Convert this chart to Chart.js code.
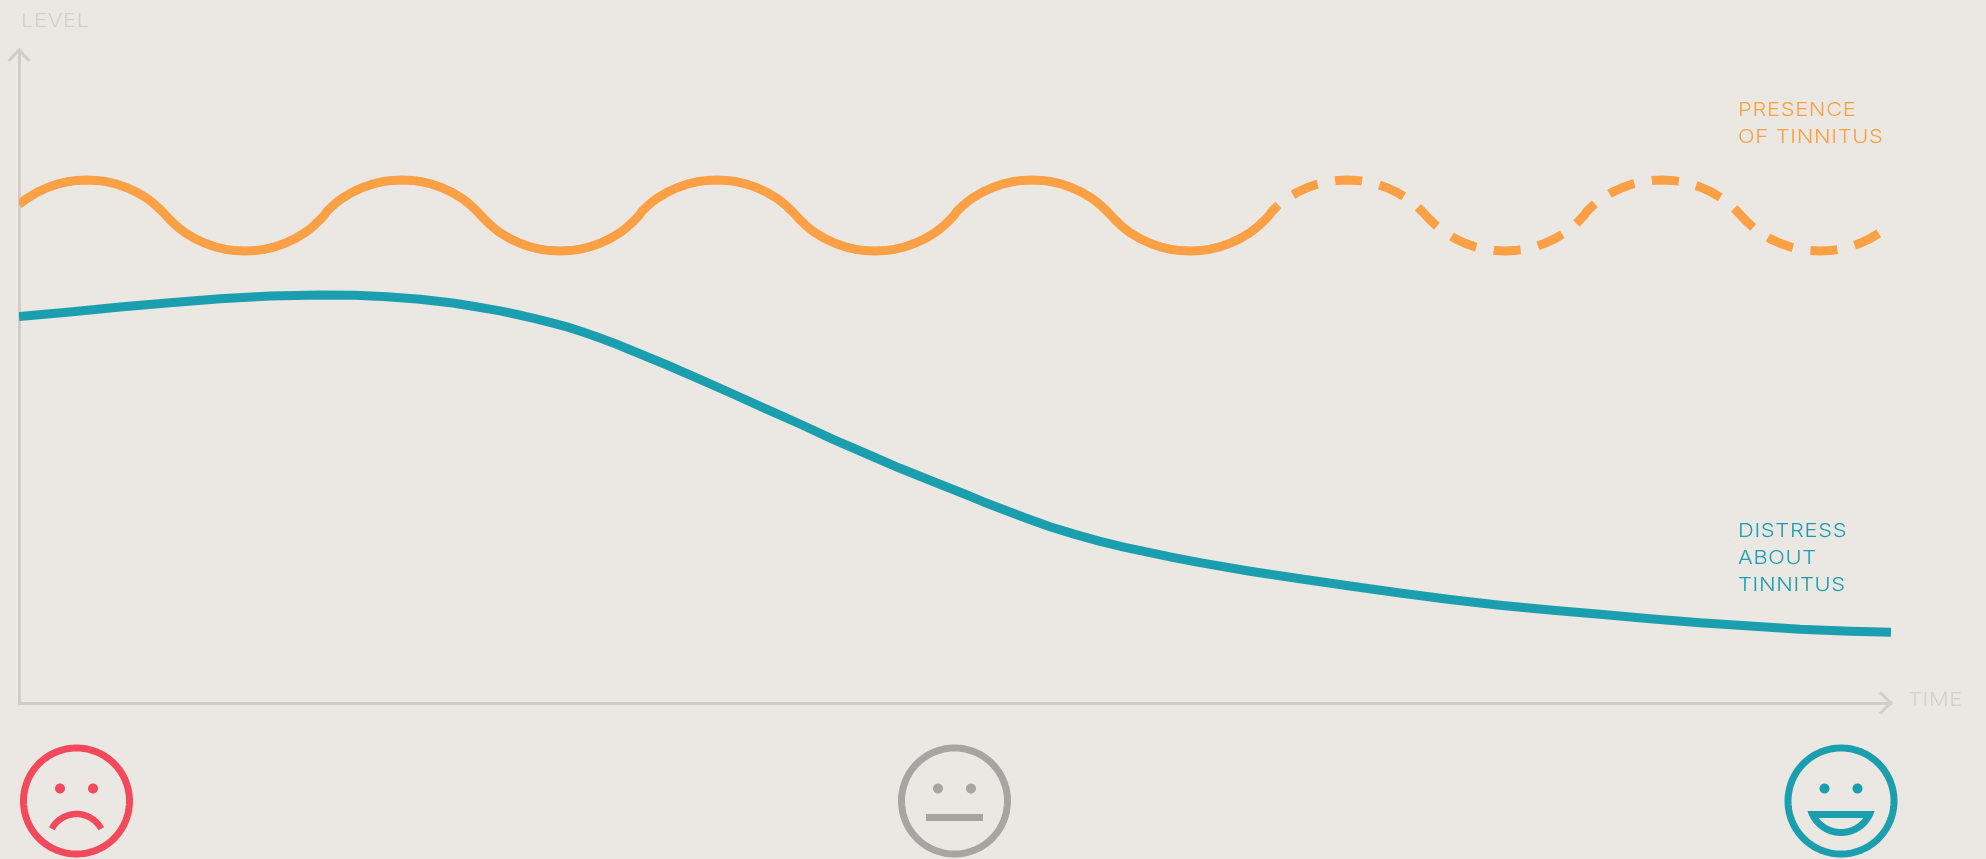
<!DOCTYPE html>
<html>
<head>
<meta charset="utf-8">
<title>Tinnitus level over time</title>
<script src="https://cdn.jsdelivr.net/npm/chart.js@4"></script>
<style>
    html, body { margin: 0; padding: 0; background: #ebe8e3; overflow: hidden; }
    canvas { display: block; }
</style>
</head>
<body>
<canvas id="chart" width="1986" height="859"></canvas>
<script>
// Values (no ticks in the original, units are arbitrary)
const presenceTime = [
    0, 3, 8, 18, 28, 38, 48, 58, 68, 78, 88, 98, 108, 118, 128, 133, 138, 143, 147, 151, 156, 161, 166, 176, 186, 196, 206, 216, 226, 236, 246, 256, 266, 276, 286, 291, 296, 301, 305,
    308, 313, 318, 323, 333, 343, 353, 363, 373, 383, 393, 403, 413, 423, 433, 443, 448, 453, 458, 462, 466, 471, 476, 481, 491, 501, 511, 521, 531, 541, 551, 561, 571, 581, 591, 601, 606, 611, 616, 620,
    623, 628, 633, 638, 648, 658, 668, 678, 688, 698, 708, 718, 728, 738, 748, 758, 763, 768, 773, 777, 781, 786, 791, 796, 806, 816, 826, 836, 846, 856, 866, 876, 886, 896, 906, 916, 921, 926, 931, 935,
    938, 943, 948, 953, 963, 973, 983, 993, 1003, 1013, 1023, 1033, 1043, 1053, 1063, 1073, 1078, 1083, 1088, 1092, 1096, 1101, 1106, 1111, 1121, 1131, 1141, 1151, 1161, 1171, 1181, 1191, 1201, 1211, 1221, 1231, 1236, 1241, 1246, 1250,
    1253, 1258, 1263, 1268, 1278, 1288, 1298, 1308, 1318, 1328, 1338, 1348, 1358, 1368, 1378, 1388, 1393, 1398, 1403, 1407, 1411, 1416, 1421, 1426, 1436, 1446, 1456, 1466, 1476, 1486, 1496, 1506, 1516, 1526, 1536, 1546, 1551, 1556, 1561, 1565,
    1568, 1573, 1578, 1583, 1593, 1603, 1613, 1623, 1633, 1643, 1653, 1663, 1673, 1683, 1693, 1703, 1708, 1713, 1718, 1722, 1726, 1731, 1736, 1741, 1751, 1761, 1771, 1781, 1791, 1801, 1811, 1821, 1831, 1841, 1851, 1861, 1866, 1871, 1872
];
const presenceLevel = [
    498.4, 500.9, 504.6, 510.6, 515.3, 518.8, 521.2, 522.6, 523, 522.6, 521.2, 518.8, 515.3, 510.6, 504.6, 500.9, 496.6, 491.8, 487.5, 483.2, 478.4, 474.1, 470.4, 464.4, 459.7, 456.2, 453.8, 452.4, 452, 452.4, 453.8, 456.2, 459.7, 464.4, 470.4, 474.1, 478.4, 483.2, 487.5,
    491.8, 496.6, 500.9, 504.6, 510.6, 515.3, 518.8, 521.2, 522.6, 523, 522.6, 521.2, 518.8, 515.3, 510.6, 504.6, 500.9, 496.6, 491.8, 487.5, 483.2, 478.4, 474.1, 470.4, 464.4, 459.7, 456.2, 453.8, 452.4, 452, 452.4, 453.8, 456.2, 459.7, 464.4, 470.4, 474.1, 478.4, 483.2, 487.5,
    491.8, 496.6, 500.9, 504.6, 510.6, 515.3, 518.8, 521.2, 522.6, 523, 522.6, 521.2, 518.8, 515.3, 510.6, 504.6, 500.9, 496.6, 491.8, 487.5, 483.2, 478.4, 474.1, 470.4, 464.4, 459.7, 456.2, 453.8, 452.4, 452, 452.4, 453.8, 456.2, 459.7, 464.4, 470.4, 474.1, 478.4, 483.2, 487.5,
    491.8, 496.6, 500.9, 504.6, 510.6, 515.3, 518.8, 521.2, 522.6, 523, 522.6, 521.2, 518.8, 515.3, 510.6, 504.6, 500.9, 496.6, 491.8, 487.5, 483.2, 478.4, 474.1, 470.4, 464.4, 459.7, 456.2, 453.8, 452.4, 452, 452.4, 453.8, 456.2, 459.7, 464.4, 470.4, 474.1, 478.4, 483.2, 487.5,
    491.8, 496.6, 500.9, 504.6, 510.6, 515.3, 518.8, 521.2, 522.6, 523, 522.6, 521.2, 518.8, 515.3, 510.6, 504.6, 500.9, 496.6, 491.8, 487.5, 483.2, 478.4, 474.1, 470.4, 464.4, 459.7, 456.2, 453.8, 452.4, 452, 452.4, 453.8, 456.2, 459.7, 464.4, 470.4, 474.1, 478.4, 483.2, 487.5,
    491.8, 496.6, 500.9, 504.6, 510.6, 515.3, 518.8, 521.2, 522.6, 523, 522.6, 521.2, 518.8, 515.3, 510.6, 504.6, 500.9, 496.6, 491.8, 487.5, 483.2, 478.4, 474.1, 470.4, 464.4, 459.7, 456.2, 453.8, 452.4, 452, 452.4, 453.8, 456.2, 459.7, 464.4, 470.4, 474.1, 478.4, 479.2
];
const presenceDashedFrom = 1258; // the future part of the line is dashed

const distressTime = [
    0, 51, 101, 151, 201, 251, 301, 336, 368, 401, 434, 457, 481, 498, 514, 531, 548, 564, 581, 597, 614, 648, 681, 714, 748, 781, 814, 848, 881, 914, 948,
    964, 981, 1006, 1031, 1056, 1081, 1106, 1131, 1156, 1181, 1231, 1281, 1331, 1381, 1431, 1481, 1531, 1581, 1631, 1681, 1731, 1781, 1831, 1872
];
const distressLevel = [
    386.4, 391, 396, 400.3, 404.3, 407, 408, 407.7, 406.3, 403.7, 400, 396.3, 392.1, 388.5, 384.8, 380.7, 376.1, 371, 365, 359, 352, 338, 323.7, 309, 293.7, 279, 263.7, 249, 234.7, 221.5, 208,
    201.3, 194.7, 185.2, 176.3, 168.6, 161.7, 155.7, 150.3, 145.1, 140.3, 131.8, 124.3, 117, 110, 103.5, 97.8, 93, 88.7, 84.3, 80.3, 77, 73.7, 71.7, 70.7
];

const presenceLabel = ["PRESENCE", "OF TINNITUS"];
const distressLabel = ["DISTRESS", "ABOUT", "TINNITUS"];

const BG = "#ebe8e3";
const AXIS = "#d2cdc6";
const AXIS_TEXT = "#d4d0ca";
const ORANGE = "#fba044";
const TEAL = "#1b9fae";
const RED = "#f4485d";
const GREY = "#a6a5a1";

function toPoints(xs, ys) {
    return xs.map((x, i) => ({ x: x, y: ys[i] }));
}

function label(ctx, text, x, y, color) {
    ctx.save();
    ctx.translate(x, y);
    ctx.scale(1.15, 1); // the original lettering is wider than Inter
    ctx.font = "300 19px Inter";
    ctx.letterSpacing = "0.6px";
    ctx.fillStyle = color;
    ctx.textAlign = "left";
    ctx.textBaseline = "alphabetic";
    ctx.fillText(text, 0, 0);
    ctx.restore();
}

// circle path as a fine polygon
function circlePath(ctx, cx, cy, r, from, to) {
    for (let i = 0; i <= 180; i++) {
        const t = from + (to - from) * i / 180;
        ctx.lineTo(cx + r * Math.cos(t), cy + r * Math.sin(t));
    }
}

function faceRing(ctx, cx, cy, color) {
    ctx.strokeStyle = color;
    ctx.fillStyle = color;
    ctx.lineWidth = 7;
    ctx.beginPath();
    circlePath(ctx, cx, cy, 53, 0, Math.PI * 2);
    ctx.closePath();
    ctx.stroke();
    [-16.5, 16.5].forEach(dx => {
        ctx.beginPath();
        circlePath(ctx, cx + dx, cy - 12.5, 5, 0, Math.PI * 2);
        ctx.fill();
    });
}

// Arrows, axis names, series names and the three faces
const decorations = {
    id: "decorations",
    beforeDraw(chart) {
        const ctx = chart.ctx;
        ctx.save();
        ctx.fillStyle = BG;
        ctx.fillRect(0, 0, chart.width, chart.height);
        ctx.restore();
    },
    afterDraw(chart) {
        const ctx = chart.ctx;
        const a = chart.chartArea;
        ctx.save();

        // axis arrow heads
        ctx.strokeStyle = AXIS;
        ctx.lineWidth = 3;
        ctx.beginPath();
        ctx.moveTo(a.left - 10.5, a.top + 11);
        ctx.lineTo(a.left, a.top);
        ctx.lineTo(a.left + 10.5, a.top + 11);
        ctx.moveTo(a.right - 11, a.bottom - 10.5);
        ctx.lineTo(a.right, a.bottom);
        ctx.lineTo(a.right - 11, a.bottom + 10.5);
        ctx.stroke();

        label(ctx, "LEVEL", 21, 27, AXIS_TEXT);
        label(ctx, "TIME", 1908, 706, AXIS_TEXT);
        presenceLabel.forEach((t, i) => label(ctx, t, 1738, 116 + i * 27, ORANGE));
        distressLabel.forEach((t, i) => label(ctx, t, 1738, 537 + i * 27, TEAL));

        // sad
        faceRing(ctx, 76.5, 801, RED);
        ctx.lineWidth = 6.5;
        ctx.beginPath();
        circlePath(ctx, 76.5, 842, 28, Math.PI * 1.5 - 1.08, Math.PI * 1.5 + 1.08);
        ctx.stroke();

        // neutral
        faceRing(ctx, 954.5, 801, GREY);
        ctx.fillRect(926, 814, 57, 7);

        // happy
        faceRing(ctx, 1841, 801, TEAL);
        ctx.beginPath();
        ctx.moveTo(1807.5, 811);
        ctx.lineTo(1874.5, 811);
        circlePath(ctx, 1841, 801, 35, Math.asin(10 / 35), Math.PI - Math.asin(10 / 35));
        ctx.closePath();
        ctx.moveTo(1819, 818);
        ctx.lineTo(1863, 818);
        circlePath(ctx, 1841, 801, 28, Math.asin(17 / 28), Math.PI - Math.asin(17 / 28));
        ctx.closePath();
        ctx.fill("evenodd");

        ctx.restore();
    }
};

new Chart(document.getElementById("chart").getContext("2d"), {
    type: "line",
    data: {
        datasets: [
            {
                label: "Presence of tinnitus",
                data: toPoints(presenceTime, presenceLevel),
                borderColor: ORANGE,
                borderWidth: 9,
                borderCapStyle: "butt",
                borderJoinStyle: "round",
                pointRadius: 0,
                tension: 0,
                segment: {
                    borderDash: c => c.p0.parsed.x >= presenceDashedFrom ? [27, 17.8] : undefined,
                    borderDashOffset: c => c.p0.parsed.x >= presenceDashedFrom ? 25 : undefined
                }
            },
            {
                label: "Distress about tinnitus",
                data: toPoints(distressTime, distressLevel),
                borderColor: TEAL,
                borderWidth: 9,
                borderCapStyle: "butt",
                borderJoinStyle: "round",
                pointRadius: 0,
                tension: 0
            }
        ]
    },
    options: {
        responsive: false,
        animation: false,
        layout: { autoPadding: false, padding: { left: 19, right: 95, top: 50, bottom: 156 } },
        plugins: { legend: { display: false }, tooltip: { enabled: false } },
        scales: {
            x: {
                type: "linear",
                min: 0,
                max: 1872,
                grid: { display: false, drawTicks: false },
                ticks: { display: false },
                border: { color: AXIS, width: 3 }
            },
            y: {
                min: 0,
                max: 653,
                grid: { display: false, drawTicks: false },
                ticks: { display: false },
                border: { color: AXIS, width: 3 }
            }
        }
    },
    plugins: [decorations]
});
</script>
</body>
</html>
